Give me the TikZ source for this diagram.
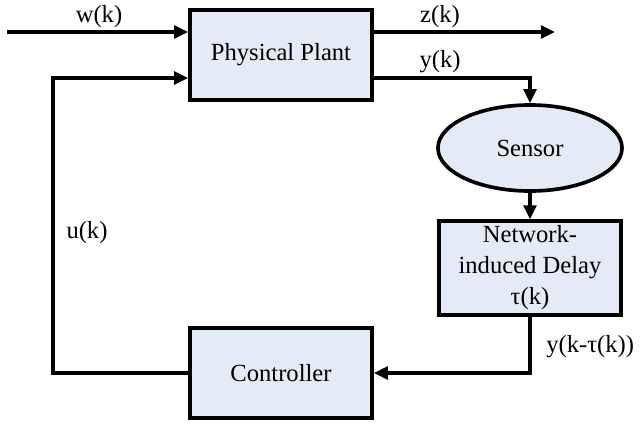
\documentclass[tikz,border=0pt]{standalone}
\usepackage{fontspec}
\setmainfont{Liberation Serif}
\usepackage{tikz}
\usetikzlibrary{positioning,calc,shapes.geometric,arrows.meta}
\definecolor{boxfill}{RGB}{228,234,246}

\begin{document}
\begin{tikzpicture}[
    x=0.025cm, y=-0.025cm,
    block/.style={rectangle, draw, line width=2.6pt, fill=boxfill, minimum width=4.55cm, minimum height=2.25cm, align=center, font=\fontsize{17.5}{22}\selectfont},
    sensorshape/.style={ellipse, draw, line width=2.6pt, fill=boxfill, minimum width=4.6cm, minimum height=2.15cm, font=\fontsize{17.5}{22}\selectfont},
    arr/.style={draw, line width=2.4pt, -{Triangle[length=10pt,width=9pt]}},
    lbl/.style={font=\fontsize{17.5}{21}\selectfont, inner sep=0pt}
]
\useasboundingbox (0,0) rectangle (640,424);

% Define blocks
\node[block] (plant) at (281, 55) {Physical Plant};
\node[sensorshape] (sensor) at (530, 148) {Sensor};
\node[block] (delay) at (530, 268) {Network-\\induced Delay\\τ(k)};
\node[block] (ctrl) at (281, 373) {Controller};

% Free ends and corners
\coordinate (w0) at (7, 32);
\coordinate (z1) at (555, 32);
\coordinate (ycorner) at (530, 78);
\coordinate (ucorner) at (53, 78);

% Draw connectors
\draw[arr] (w0) -- (w0 -| plant.west);
\draw[arr] (z1 -| plant.east) -- (z1);
\draw[arr] (plant.east |- ycorner) -- (ycorner) -- (sensor.north);
\draw[arr] (sensor.south) -- (delay.north);
\draw[arr] (delay.south) |- (ctrl.east);
\draw[arr] (ctrl.west) -| (ucorner) -- (ucorner -| plant.west);

% Signal labels
\node[lbl] (wlbl) at (99, 17) {w(k)};
\node[lbl] (zlbl) at (440, 17) {z(k)};
\node[lbl] (ylbl) at (440, 62) {y(k)};
\node[lbl] (ulbl) at (87, 233) {u(k)};
\node[lbl, anchor=west] (ydlbl) at (546, 347) {y(k-τ(k))};

\end{tikzpicture}
\end{document}
